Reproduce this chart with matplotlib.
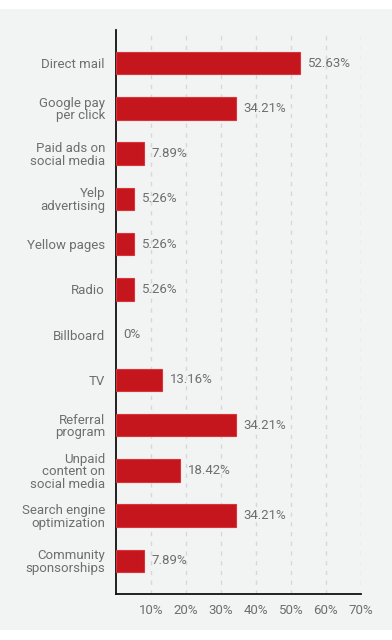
import matplotlib.pyplot as plt
from matplotlib.patches import Rectangle

categories = ["Direct mail", "Google pay\nper click", "Paid ads on\nsocial media", "Yelp\nadvertising",
              "Yellow pages", "Radio", "Billboard", "TV", "Referral\nprogram",
              "Unpaid\ncontent on\nsocial media", "Search engine\noptimization", "Community\nsponsorships"]
values = [52.63, 34.21, 7.89, 5.26, 5.26, 5.26, 0, 13.16, 34.21, 18.42, 34.21, 7.89]
value_labels = ["52.63%", "34.21%", "7.89%", "5.26%", "5.26%", "5.26%", "0%", "13.16%",
                "34.21%", "18.42%", "34.21%", "7.89%"]
ticks = [10, 20, 30, 40, 50, 60, 70]
tick_labels = ["10%", "20%", "30%", "40%", "50%", "60%", "70%"]

plt.rcParams['font.family'] = ['Roboto', 'DejaVu Sans']
text_color = '#6e6e6e'
bg = '#f2f3f3'
fs = 9.5

fig = plt.figure(figsize=(3.92, 6.4), dpi=100)
# gray panel behind everything
fig.add_artist(Rectangle((0, 1 - 630 / 640), 1, 621 / 640, transform=fig.transFigure,
                         facecolor=bg, edgecolor='none', zorder=-10))

ax = fig.add_axes([116 / 392, 1 - 594 / 640, 245 / 392, 564 / 640])
ax.set_facecolor('none')

y = list(range(len(categories)))
lw = [0.8 if v > 0 else 0 for v in values]
ax.barh(y, values, height=0.5, color='#c4161c', edgecolor='#d8353a', linewidth=lw, zorder=3)
for yi, v, lab in zip(y, values, value_labels):
    ax.text(v + 2.2, yi, lab, va='center', ha='left', fontsize=fs, color=text_color)

ax.set_xlim(0, 70)
ax.set_ylim(11.73, -0.73)
ax.set_yticks(y)
ax.set_yticklabels(categories, fontsize=fs, color=text_color, linespacing=0.95)
ax.set_xticks(ticks)
ax.set_xticklabels(tick_labels, fontsize=fs, color=text_color)
ax.tick_params(length=0, pad=8)
ax.tick_params(axis='x', pad=7)

for t in ticks:
    ax.axvline(t, color='#d5d7d8', linestyle=(0, (3, 4)), linewidth=1, zorder=1)

for s in ['top', 'right']:
    ax.spines[s].set_visible(False)
ax.spines['left'].set_linewidth(1.3)
ax.spines['bottom'].set_linewidth(1.3)
ax.spines['left'].set_color('#111111')
ax.spines['bottom'].set_color('#111111')

fig.savefig('out.png', dpi=100)
